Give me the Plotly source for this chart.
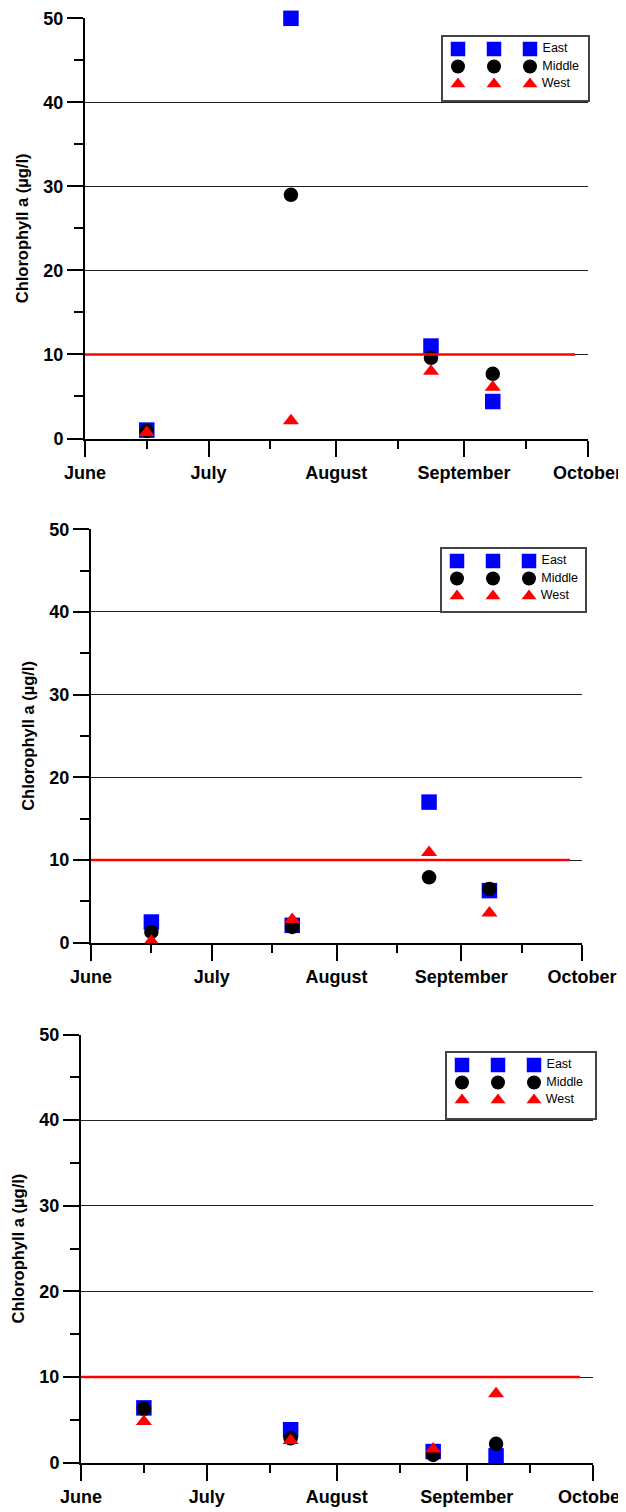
import plotly.graph_objects as go

# The page has an 8 px body margin, so the figure is sized to end at the window edge
PAGE_OFF = 8
W, H = 626 - PAGE_OFF, 1512 - PAGE_OFF

# ---------------- data ----------------
sample_dates = ["2008-06-16", "2008-07-21", "2008-08-24", "2008-09-08"]
month_ticks = ["2008-06-01", "2008-07-01", "2008-08-01", "2008-09-01", "2008-10-01"]
month_labels = ["June", "July", "August", "September", "October"]
mid_month_ticks = ["2008-06-16", "2008-07-16", "2008-08-16", "2008-09-16"]
x_range = ["2008-06-01", "2008-10-01"]
y_ticks = [0, 10, 20, 30, 40, 50]

series_names = ["East", "Middle", "West"]

p1_east = [1.0, 50.0, 11.0, 4.4]
p1_middle = [0.9, 29.0, 9.6, 7.7]
p1_west = [0.7, 2.1, 8.0, 6.1]

p2_east = [2.5, 2.1, 17.0, 6.3]
p2_middle = [1.3, 1.9, 7.9, 6.5]
p2_west = [0.2, 2.8, 10.9, 3.6]

p3_east = [6.4, 3.85, 1.3, 0.8]
p3_middle = [6.3, 2.85, 0.9, 2.2]
p3_west = [4.8, 2.6, 1.6, 8.05]

threshold_dates = ["2008-06-01", "2008-09-28"]
threshold_values = [10, 10]

legend_key_cols = ["k1", "k2", "k3"]

panels = [
    {"east": p1_east, "middle": p1_middle, "west": p1_west},
    {"east": p2_east, "middle": p2_middle, "west": p2_west},
    {"east": p3_east, "middle": p3_middle, "west": p3_west},
]

# ---------------- geometry (window pixels) ----------------
plot_boxes = [  # left, right, top (y=50), bottom (y=0)
    (85, 587.5, 18.3, 438.5),
    (91, 582, 529.2, 942.7),
    (81, 592.5, 1034.5, 1462.7),
]
legend_boxes = [  # left, right, top, bottom
    (443, 588, 37, 100),
    (442, 585, 549, 611),
    (447, 595, 1053, 1118),
]

styles = {
    "East": dict(symbol="square", color="#0000ff", size=15.5, lsize=14.5),
    "Middle": dict(symbol="circle", color="#000000", size=14.5, lsize=14),
    "West": dict(symbol="triangle-up", color="#ff0000", size=14, lsize=13),
}

FONT = "Liberation Sans, Arial, sans-serif"


def xdom(l, r):
    return [(l - PAGE_OFF) / W, (r - PAGE_OFF) / W]


def ydom(t, b):
    return [1 - (b - PAGE_OFF) / H, 1 - (t - PAGE_OFF) / H]


fig = go.Figure()
layout = {}

for i, pdata in enumerate(panels):
    n = i + 1
    xa = "x" if n == 1 else f"x{n}"
    ya = "y" if n == 1 else f"y{n}"
    l, r, t, b = plot_boxes[i]

    for name, key in zip(series_names, ["east", "middle", "west"]):
        st = styles[name]
        fig.add_trace(go.Scatter(
            x=sample_dates, y=pdata[key], mode="markers", name=name,
            xaxis=xa, yaxis=ya, cliponaxis=False, showlegend=False,
            marker=dict(symbol=st["symbol"], color=st["color"], size=st["size"],
                        line=dict(width=0)),
        ))
    fig.add_trace(go.Scatter(
        x=threshold_dates, y=threshold_values, mode="lines", xaxis=xa, yaxis=ya,
        line=dict(color="#ff0000", width=2.5), showlegend=False, hoverinfo="skip",
    ))

    layout[f"xaxis{'' if n == 1 else n}"] = dict(
        domain=xdom(l, r), anchor=ya, type="date", range=x_range, automargin=False,
        tickmode="array", tickvals=month_ticks, ticktext=month_labels,
        ticks="outside", ticklen=16, tickwidth=2, tickcolor="black",
        showline=True, linecolor="black", linewidth=2, showgrid=False, zeroline=False,
        tickfont=dict(family=FONT, size=18, color="black", weight="bold"),
        ticklabelstandoff=1, ticklabeloverflow="allow",
        minor=dict(tickmode="array", tickvals=mid_month_ticks, ticks="outside",
                   ticklen=8, tickwidth=2, tickcolor="black", showgrid=False),
    )
    layout[f"yaxis{'' if n == 1 else n}"] = dict(
        domain=ydom(t, b), anchor=xa, range=[0, 50], automargin=False,
        tickmode="array", tickvals=y_ticks,
        ticks="outside", ticklen=16, tickwidth=2, tickcolor="black",
        showline=True, linecolor="black", linewidth=2,
        showgrid=True, gridcolor="#222222", gridwidth=1, zeroline=False,
        tickfont=dict(family=FONT, size=18, color="black", weight="bold"),
        ticklabelstandoff=0, ticklabeloverflow="allow",
        minor=dict(dtick=5, ticks="outside", ticklen=9, tickwidth=2,
                   tickcolor="black", showgrid=False),
        title=dict(text="Chlorophyll a (µg/l)", standoff=11,
                   font=dict(family=FONT, size=16.5, color="black", weight="bold")),
    )

    # legend key drawn on its own small axes
    m = n + 3
    lxa, lya = f"x{m}", f"y{m}"
    ll, lr, lt, lb = legend_boxes[i]
    for name in series_names:
        st = styles[name]
        fig.add_trace(go.Scatter(
            x=legend_key_cols, y=[name] * len(legend_key_cols), mode="markers+text",
            text=["", "", "\u2009" + name], textposition="middle right",
            textfont=dict(family=FONT, size=12.5, color="black"),
            xaxis=lxa, yaxis=lya, showlegend=False, hoverinfo="skip", cliponaxis=False,
            marker=dict(symbol=st["symbol"], color=st["color"], size=st["lsize"],
                        line=dict(width=0)),
        ))
    lw = lr - ll
    lh = lb - lt
    layout[f"xaxis{m}"] = dict(
        domain=xdom(ll, lr), anchor=lya, type="category", automargin=False,
        categoryorder="array", categoryarray=legend_key_cols,
        range=[-15 / 36, (lw - 15) / 36],
        showline=True, mirror=True, linecolor="#444444", linewidth=1.5,
        showticklabels=False, ticks="", showgrid=False, zeroline=False, fixedrange=True,
    )
    layout[f"yaxis{m}"] = dict(
        domain=ydom(lt, lb), anchor=lxa, type="category", automargin=False,
        categoryorder="array", categoryarray=series_names,
        range=[(lh - 12) / 17.5, -12 / 17.5],
        showline=True, mirror=True, linecolor="#444444", linewidth=1.5,
        showticklabels=False, ticks="", showgrid=False, zeroline=False, fixedrange=True,
    )

fig.update_layout(
    width=W, height=H, margin=dict(l=0, r=0, t=0, b=0, autoexpand=False),
    paper_bgcolor="white", plot_bgcolor="white", showlegend=False,
    font=dict(family=FONT, color="black"),
    **layout,
)

fig.write_html("out.html")
